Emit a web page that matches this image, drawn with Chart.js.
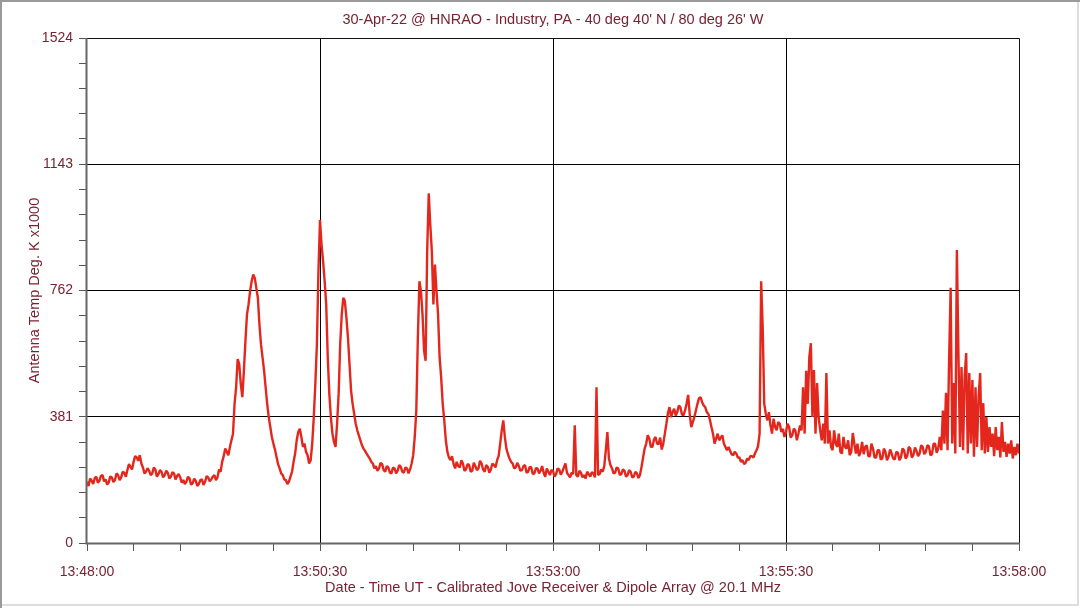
<!DOCTYPE html>
<html>
<head>
<meta charset="utf-8">
<script src="https://cdn.jsdelivr.net/npm/chart.js@4.4.1/dist/chart.umd.min.js"></script>
<style>
  html, body { margin: 0; padding: 0; background: #ffffff; }
  #wrap { width: 1080px; height: 608px; position: relative; }
</style>
</head>
<body>
<div id="wrap"><canvas id="c" width="1080" height="608"></canvas></div>
<script>
// ---- data ----
const chartTitle = "30-Apr-22 @ HNRAO - Industry, PA - 40 deg 40' N / 80 deg 26' W";
const xAxisTitle = "Date - Time UT - Calibrated Jove Receiver & Dipole Array @ 20.1 MHz";
const yAxisTitle = "Antenna Temp Deg. K x1000";
const xTickLabels = ["13:48:00", "13:50:30", "13:53:00", "13:55:30", "13:58:00"];
const yTickLabels = ["0", "381", "762", "1143", "1524"];
const sampleStepSeconds = 1;   // one reading per second from 13:48:00
const antennaTemp = [
  // 13:48:00
  185,172,195,188,178,196,200,182,188,203,205,186,192,176,183,201,198,184,190,210,
  205,190,198,215,212,200,220,238,230,222,245,262,258,248,265,240,228,210,215,226,
  218,205,210,228,222,200,208,220,215,198,205,218,212,195,200,214,210,192,202,208,
  198,182,190,178,185,200,195,176,180,194,188,172,178,190,192,175,185,202,198,186,
  192,200,205,190,198,222,215,245,262,285,275,265,290,310,330,420,470,555,540,480,
  440,520,610,690,720,760,790,810,800,770,740,660,600,560,520,470,420,380,350,320,
  300,282,260,238,225,210,205,192,190,178,185,200,215,245,270,310,335,345,320,290,
  // 13:50:20
  300,275,265,240,250,300,380,480,600,820,975,900,850,790,720,560,450,380,330,305,
  290,360,450,600,690,740,730,680,620,540,460,420,390,360,340,325,310,295,285,278,
  270,262,255,245,240,225,232,218,225,242,238,220,215,232,228,212,210,228,225,210,
  218,235,230,215,212,228,225,210,222,240,265,320,400,620,790,760,690,580,550,880,
  1055,960,880,720,840,760,690,560,500,420,370,310,275,258,250,262,238,225,245,232,
  228,250,240,218,222,238,235,215,218,242,232,220,225,248,240,222,215,235,230,212,
  222,240,235,228,250,262,300,340,370,320,285,268,255,245,240,225,228,242,232,218,
  220,232,235,212,215,230,228,208,210,226,225,210,218,232,212,200,225,215,205,220,
  // 13:53:00
  218,200,208,225,222,206,215,228,240,212,205,198,212,208,355,205,200,218,212,198,
  205,195,215,208,200,214,210,198,470,205,208,222,215,232,280,335,255,235,225,210,
  212,228,225,205,208,222,218,200,205,220,215,198,200,215,210,196,205,230,258,285,
  300,325,315,290,290,312,320,300,298,318,282,300,330,360,392,410,380,395,405,385,
  395,415,410,388,385,400,420,447,390,350,365,380,400,420,437,440,425,415,410,395,
  390,372,350,330,300,315,330,310,318,325,300,290,280,290,278,268,265,275,270,258,
  258,245,250,238,242,255,250,262,262,258,270,280,292,330,790,650,420,390,370,395,
  // 13:55:20
  355,330,375,350,340,365,360,335,345,320,335,360,350,318,325,345,340,310,330,355,
  340,470,330,520,420,560,603,380,522,330,483,380,341,310,360,300,513,300,340,290,
  280,340,300,290,330,275,270,320,290,285,310,265,275,332,300,270,300,262,275,305,
  268,290,295,262,262,300,285,258,258,280,280,252,255,285,275,250,260,282,270,255,
  252,275,272,250,258,285,280,255,262,290,285,258,265,288,278,262,270,295,290,268,
  275,295,292,265,268,300,300,272,285,320,280,400,300,453,280,552,770,300,483,270,
  884,573,290,531,280,500,573,270,513,300,492,260,470,290,440,513,280,422,270,380,
  275,350,290,330,262,350,280,320,258,365,275,305,260,300,270,310,255,290,265,300,
  // 13:58:00
  270
];

// ---- styles ----
const TEXT_COLOR = '#7a2232';
const LINE_COLOR = '#e4271d';
const FONT = "'Liberation Sans', Arial, sans-serif";

const points = antennaTemp.map((v, i) => ({ x: i * sampleStepSeconds, y: v }));
const xMax = (antennaTemp.length - 1) * sampleStepSeconds;
const yMax = Number(yTickLabels[yTickLabels.length - 1]);
const yMajor = Number(yTickLabels[1]);
const xMajor = xMax / (xTickLabels.length - 1);

function isMajor(v, step) {
  const r = v / step;
  return Math.abs(r - Math.round(r)) < 1e-6;
}

const framePlugin = {
  id: 'frame',
  beforeDraw(chart) {
    const ctx = chart.ctx;
    ctx.save();
    ctx.fillStyle = '#ffffff';
    ctx.fillRect(0, 0, chart.width, chart.height);
    ctx.restore();
  },
  afterDraw(chart) {
    const ctx = chart.ctx;
    const a = chart.chartArea;
    ctx.save();
    ctx.strokeStyle = '#111111';
    ctx.lineWidth = 1;
    ctx.beginPath();
    ctx.moveTo(a.left, a.top + 0.5);
    ctx.lineTo(a.right + 0.5, a.top + 0.5);
    ctx.lineTo(a.right + 0.5, a.bottom);
    ctx.stroke();
    ctx.strokeStyle = '#666666';
    ctx.lineWidth = 2;
    ctx.beginPath();
    ctx.moveTo(a.left - 0.5, a.top);
    ctx.lineTo(a.left - 0.5, a.bottom + 0.5);
    ctx.lineTo(a.right + 1, a.bottom + 0.5);
    ctx.stroke();
    ctx.strokeStyle = '#9a9a9a';
    ctx.lineWidth = 2;
    ctx.beginPath();
    ctx.moveTo(1, chart.height);
    ctx.lineTo(1, 1);
    ctx.lineTo(chart.width, 1);
    ctx.stroke();
    ctx.strokeStyle = '#dddddd';
    ctx.lineWidth = 2;
    ctx.beginPath();
    ctx.moveTo(2, chart.height - 3);
    ctx.lineTo(chart.width - 2, chart.height - 3);
    ctx.lineTo(chart.width - 2, 2);
    ctx.stroke();
    ctx.restore();
  }
};

new Chart(document.getElementById('c'), {
  type: 'line',
  data: {
    datasets: [{
      data: points,
      borderColor: LINE_COLOR,
      borderWidth: 2.4,
      borderJoinStyle: 'bevel',
      pointRadius: 0,
      tension: 0,
      fill: false
    }]
  },
  options: {
    responsive: false,
    animation: false,
    layout: { padding: { left: 0, right: 61, top: 0, bottom: 0 } },
    plugins: {
      legend: { display: false },
      tooltip: { enabled: false },
      title: {
        display: true,
        fullSize: false,
        text: chartTitle,
        color: TEXT_COLOR,
        font: { family: FONT, size: 14.5, weight: 'normal', lineHeight: 1.2 },
        padding: { top: 11.6, bottom: 9 }
      }
    },
    scales: {
      x: {
        type: 'linear',
        min: 0,
        max: xMax,
        afterFit(scale) { scale.height = 65; },
        ticks: {
          stepSize: xMajor / 5,
          autoSkip: false,
          maxRotation: 0,
          color: TEXT_COLOR,
          font: { family: FONT, size: 14 },
          padding: 13,
          callback(v) {
            if (!isMajor(v, xMajor)) return '';
            return xTickLabels[Math.round(v / xMajor)];
          }
        },
        grid: {
          color(ctx) {
            const v = ctx.tick ? ctx.tick.value : 0;
            if (v === 0 || v === xMax) return 'rgba(0,0,0,0)';
            return isMajor(v, xMajor) ? '#000000' : 'rgba(0,0,0,0)';
          },
          tickColor: '#555555',
          tickLength: 8,
          lineWidth: 1
        },
        border: { display: false },
        title: {
          display: true,
          text: xAxisTitle,
          color: TEXT_COLOR,
          font: { family: FONT, size: 14.5, lineHeight: 1.2 },
          padding: { top: 0, bottom: 11.3 }
        }
      },
      y: {
        type: 'linear',
        min: 0,
        max: yMax,
        afterFit(scale) { scale.width = 87; },
        ticks: {
          stepSize: yMajor / 5,
          autoSkip: false,
          color: TEXT_COLOR,
          font: { family: FONT, size: 14 },
          padding: 6,
          callback(v) {
            if (!isMajor(v, yMajor)) return '';
            return yTickLabels[Math.round(v / yMajor)];
          }
        },
        grid: {
          color(ctx) {
            const v = ctx.tick ? ctx.tick.value : 0;
            if (v === 0 || Math.abs(v - yMax) < 1e-6) return 'rgba(0,0,0,0)';
            return isMajor(v, yMajor) ? '#000000' : 'rgba(0,0,0,0)';
          },
          tickColor: '#555555',
          tickLength: 8,
          lineWidth: 1
        },
        border: { display: false },
        title: {
          display: true,
          text: yAxisTitle,
          color: TEXT_COLOR,
          font: { family: FONT, size: 14.5, lineHeight: 1.2 },
          padding: { top: 26.3, bottom: 0 }
        }
      }
    }
  },
  plugins: [framePlugin]
});
</script>
</body>
</html>
